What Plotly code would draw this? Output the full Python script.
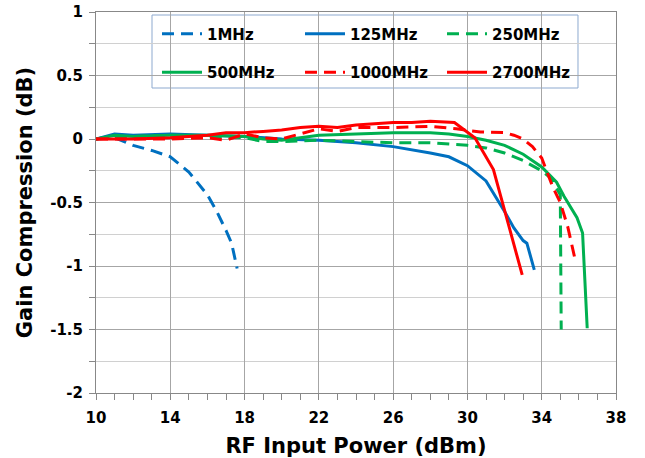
import plotly.graph_objects as go

# ---- data ----
x_1mhz = [10, 11, 12, 13, 14, 15, 16, 16.5, 17, 17.3, 17.6]
y_1mhz = [0, 0.01, -0.05, -0.09, -0.14, -0.26, -0.44, -0.57, -0.72, -0.82, -1.02]

x_125 = [10, 11, 12, 14, 16, 18, 20, 22, 24, 26, 28, 29, 30, 31, 32, 32.5, 33, 33.2, 33.6]
y_125 = [0, 0.04, 0.03, 0.04, 0.03, 0.02, 0.0, -0.01, -0.03, -0.06, -0.11, -0.14, -0.21, -0.33,
         -0.57, -0.7, -0.8, -0.82, -1.03]

x_250 = [10, 11, 12, 14, 16, 18, 19, 20, 22, 24, 26, 28, 30, 31, 32, 33, 34, 34.5, 35, 35.05]
y_250 = [0, 0.02, 0.02, 0.03, 0.02, 0.01, -0.02, -0.02, -0.01, -0.02, -0.03, -0.03, -0.05,
         -0.07, -0.11, -0.17, -0.25, -0.31, -0.44, -1.5]

x_500 = [10, 11, 12, 14, 16, 18, 19, 20, 21, 22, 24, 26, 28, 29, 30, 31, 32, 33, 34, 34.8,
         35.2, 35.9, 36.2, 36.45]
y_500 = [0, 0.03, 0.02, 0.03, 0.03, 0.02, 0.0, -0.01, 0.01, 0.03, 0.04, 0.05, 0.05, 0.04,
         0.02, -0.01, -0.05, -0.12, -0.22, -0.34, -0.45, -0.62, -0.74, -1.49]

x_1000 = [10, 12, 14, 16, 17, 18, 19, 20, 21, 22, 23, 24, 26, 28, 29.4, 30.7, 32, 32.5, 33,
          33.5, 34, 34.6, 35, 35.4, 35.8]
y_1000 = [0, 0.0, 0.0, 0.01, -0.01, 0.04, 0.01, 0.0, 0.04, 0.08, 0.06, 0.09, 0.09, 0.1, 0.08,
          0.055, 0.05, 0.03, 0.0, -0.06, -0.15, -0.38, -0.5, -0.69, -0.95]

x_2700 = [10, 12, 14, 15, 16, 17, 18, 19, 20, 21, 22, 23, 24, 25, 26, 27, 28, 29.3, 30.4,
          31.4, 32.1, 32.7, 32.95]
y_2700 = [0, 0.0, 0.01, 0.02, 0.03, 0.05, 0.05, 0.06, 0.07, 0.09, 0.1, 0.09, 0.11, 0.12, 0.13,
          0.13, 0.14, 0.13, 0.01, -0.24, -0.61, -0.93, -1.07]

y_tickvals = [1, 0.5, 0, -0.5, -1, -1.5, -2]
y_ticktext = ["1", "0.5", "0", "-0.5", "-1", "-1.5", "-2"]
x_tickvals = [10, 14, 18, 22, 26, 30, 34, 38]

BLUE = "#0070C0"
GREEN = "#00B050"
RED = "#FF0000"
DASH = "12px,7px"
FONT = "DejaVu Sans"

series = [
    ("1MHz", x_1mhz, y_1mhz, BLUE, DASH),
    ("125MHz", x_125, y_125, BLUE, "solid"),
    ("250MHz", x_250, y_250, GREEN, DASH),
    ("500MHz", x_500, y_500, GREEN, "solid"),
    ("1000MHz", x_1000, y_1000, RED, DASH),
    ("2700MHz", x_2700, y_2700, RED, "solid"),
]

# legend cell positions (paper coords): 3 columns x 2 rows
leg_cols = [0.1173, 0.3923, 0.6654]
leg_rows = [0.9423, 0.8412]
leg_names = ["legend", "legend2", "legend3", "legend4", "legend5", "legend6"]

fig = go.Figure()
for i, (name, xs, ys, color, dash) in enumerate(series):
    fig.add_trace(go.Scatter(x=xs, y=ys, mode="lines", name=name,
                             line=dict(color=color, width=3, dash=dash),
                             legend=leg_names[i]))

AX = "#888888"
GRID = "#A6A6A6"
MINOR_GRID = "#D0D0D0"

legend_common = dict(
    orientation="v", xanchor="left", yanchor="middle",
    bgcolor="rgba(0,0,0,0)", borderwidth=0,
    font=dict(family=FONT, size=15, color="black", weight="bold"),
    itemwidth=40,
)
legend_layout = {}
for i, ln in enumerate(leg_names):
    legend_layout[ln] = dict(x=leg_cols[i % 3], y=leg_rows[i // 3], **legend_common)

fig.update_layout(
    width=645, height=458,
    margin=dict(l=96, r=29, t=12, b=65, autoexpand=False),
    paper_bgcolor="white", plot_bgcolor="white",
    font=dict(family=FONT, color="black"),
    showlegend=True,
    shapes=[dict(type="rect", xref="paper", yref="paper",
                 x0=0.1077, x1=0.9269, y0=0.8005, y1=0.9921,
                 line=dict(color="#8DA9CF", width=1), fillcolor="white",
                 layer="below")],
    xaxis=dict(
        range=[10, 38], tickmode="array", tickvals=x_tickvals,
        showgrid=True, gridcolor=GRID, gridwidth=1,
        showline=True, linecolor=AX, linewidth=1, mirror=True,
        ticks="outside", ticklen=6, tickcolor=AX, ticklabelstandoff=5,
        tickfont=dict(family=FONT, size=15, color="black", weight="bold"),
        minor=dict(dtick=1, ticks="outside", ticklen=6, tickcolor=AX, showgrid=False),
        zeroline=False,
        title=dict(text="RF Input Power (dBm)", standoff=13,
                   font=dict(family=FONT, size=21, color="black", weight="bold")),
    ),
    yaxis=dict(
        range=[-2, 1], tickmode="array", tickvals=y_tickvals, ticktext=y_ticktext,
        showgrid=True, gridcolor=GRID, gridwidth=1,
        showline=True, linecolor=AX, linewidth=1, mirror=True,
        ticks="outside", ticklen=6, tickcolor=AX, ticklabelstandoff=3,
        tickfont=dict(family=FONT, size=15, color="black", weight="bold"),
        minor=dict(tickvals=[0.75, 0.25, -0.25, -0.75, -1.25, -1.75], ticks="outside",
                   ticklen=6, tickcolor=AX, showgrid=True, gridcolor=MINOR_GRID),
        zeroline=False,
        title=dict(text="Gain Compression (dB)", standoff=11,
                   font=dict(family=FONT, size=21, color="black", weight="bold")),
    ),
    **legend_layout,
)

fig.write_html("out.html")
